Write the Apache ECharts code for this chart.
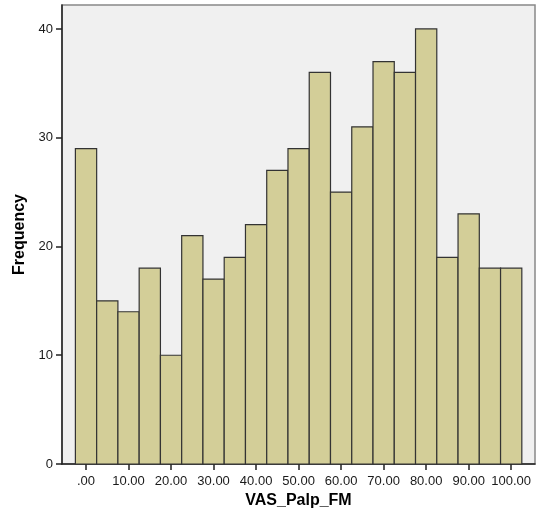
<!DOCTYPE html>
<html>
<head>
<meta charset="utf-8">
<script src="https://cdn.jsdelivr.net/npm/echarts@6/dist/echarts.min.js"></script>
<style>html,body{margin:0;padding:0;background:#fff}#c{width:536px;height:520px}</style>
</head>
<body>
<div id="c"></div>
<script>
// Bin centers (VAS_Palp_FM) and frequencies
const binCenters = [0,5,10,15,20,25,30,35,40,45,50,55,60,65,70,75,80,85,90,95,100];
const frequencies = [29,15,14,18,10,21,17,19,22,27,29,36,25,31,37,36,40,19,23,18,18];
const binWidth = 5;
const xTicks = [0,10,20,30,40,50,60,70,80,90,100];
const yTicks = [0,10,20,30,40];

const chart = echarts.init(document.getElementById('c'), null, {renderer:'canvas'});
const data = binCenters.map((c,i)=>[c, frequencies[i]]);
const fmtX = v => v === 0 ? '.00' : v.toFixed(2);

chart.setOption({
  animation:false,
  backgroundColor:'#ffffff',
  grid:{left:62,top:5,right:1,bottom:56,show:true,backgroundColor:'#f0f0f0',borderColor:'#888888',borderWidth:1.5},
  xAxis:{
    type:'value', min:-5.65, max:105.6,
    name:'VAS_Palp_FM', nameLocation:'middle', nameGap:26,
    nameTextStyle:{fontFamily:'Liberation Sans',fontWeight:'bold',fontSize:16,color:'#000'},
    axisLine:{show:true,onZero:false,lineStyle:{color:'#222',width:1.5}},
    axisTick:{show:true,length:6,customValues:xTicks,lineStyle:{color:'#222',width:1.5}},
    axisLabel:{customValues:xTicks,formatter:fmtX,fontFamily:'Liberation Sans',fontSize:13,color:'#1a1a1a',margin:11},
    splitLine:{show:false}
  },
  yAxis:{
    type:'value', min:0, max:42.2,
    name:'Frequency', nameLocation:'middle', nameGap:32,
    nameTextStyle:{fontFamily:'Liberation Sans',fontWeight:'bold',fontSize:16,color:'#000'},
    axisLine:{show:true,onZero:false,lineStyle:{color:'#222',width:1.5}},
    axisTick:{show:true,length:6,customValues:yTicks,lineStyle:{color:'#222',width:1.5}},
    axisLabel:{customValues:yTicks,fontFamily:'Liberation Sans',fontSize:13,color:'#1a1a1a',margin:9},
    splitLine:{show:false}
  },
  series:[{
    type:'custom',
    data:data,
    encode:{x:0,y:1},
    renderItem:function(params, api){
      const c = api.value(0), v = api.value(1);
      const p0 = api.coord([c - binWidth/2, v]);
      const p1 = api.coord([c + binWidth/2, 0]);
      return {
        type:'rect',
        shape:{x:p0[0], y:p0[1], width:p1[0]-p0[0], height:p1[1]-p0[1]},
        style:{fill:'#d3ce98', stroke:'#333333', lineWidth:1.2}
      };
    }
  }]
});
</script>
</body>
</html>
